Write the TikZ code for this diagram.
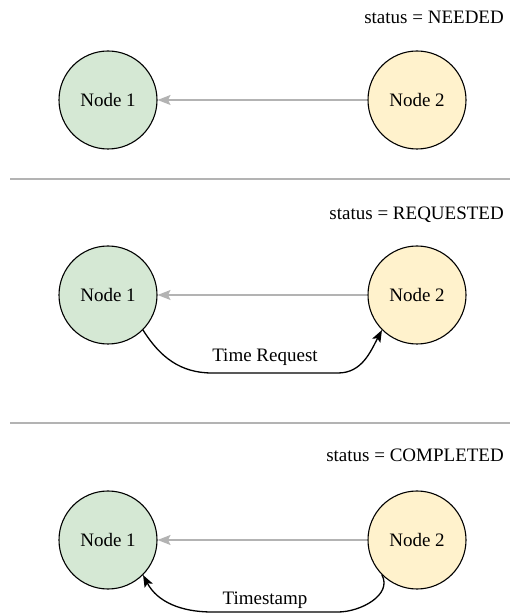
\documentclass[tikz,border=0pt]{standalone}
\usepackage{fontspec}
\setmainfont{Liberation Serif}
\usetikzlibrary{arrows.meta}
\definecolor{gnfill}{HTML}{D5E8D4}
\definecolor{ylfill}{HTML}{FFF2CC}
\definecolor{lgray}{HTML}{B3B3B3}
\begin{document}
\begin{tikzpicture}[x=1pt,y=1pt,
  nodeA/.style={circle,draw=black,line width=1.1pt,fill=gnfill,minimum size=98pt,inner sep=0pt,font=\fontsize{19}{21}\selectfont},
  nodeB/.style={nodeA,fill=ylfill},
  statuslbl/.style={anchor=east,inner sep=0pt,font=\fontsize{19}{21}\selectfont},
  edgelbl/.style={inner sep=0pt,font=\fontsize{19}{21}\selectfont},
  grayarrow/.style={draw=lgray,line width=1.5pt,-{Stealth[length=13pt,width=10pt,inset=2.5pt,fill=lgray]}},
  blackarrow/.style={draw=black,line width=1.3pt,-{Stealth[length=12pt,width=9pt,inset=2.5pt]}},
  sepline/.style={draw=lgray,line width=1.5pt}]
\useasboundingbox (0,0) rectangle (510,614);
% row 1
\node[statuslbl] (s1) at (504,597) {status = NEEDED};
\node[nodeA] (a1) at (108,514) {Node 1};
\node[nodeB] (b1) at (417,514) {Node 2};
\draw[grayarrow] (b1) -- (a1);
\coordinate (l1a) at (10,435);
\coordinate (l1b) at (510,435);
\draw[sepline] (l1a) -- (l1b);
% row 2
\node[statuslbl] (s2) at (504,399) {status = REQUESTED};
\node[nodeA] (a2) at (108,319) {Node 1};
\node[nodeB] (b2) at (417,319) {Node 2};
\draw[grayarrow] (b2) -- (a2);
\coordinate (c2a) at (212,241);
\coordinate (c2b) at (338,241);
\draw[blackarrow] (a2.-45) to[out=-58,in=180] (c2a) -- (c2b) to[out=0,in=-118] (b2.-135);
\node[edgelbl] (t2) at (265,257) {Time Request};
\coordinate (l2a) at (10,191);
\coordinate (l2b) at (510,191);
\draw[sepline] (l2a) -- (l2b);
% row 3
\node[statuslbl] (s3) at (504,159) {status = COMPLETED};
\node[nodeA] (a3) at (108,74) {Node 1};
\node[nodeB] (b3) at (417,74) {Node 2};
\draw[grayarrow] (b3) -- (a3);
\coordinate (c3a) at (338,2);
\coordinate (c3b) at (212,2);
\draw[blackarrow] (b3.-135) to[out=-62,in=0] (c3a) -- (c3b) to[out=180,in=-62] (a3.-45);
\node[edgelbl] (t3) at (265,14) {Timestamp};
\end{tikzpicture}
\end{document}
